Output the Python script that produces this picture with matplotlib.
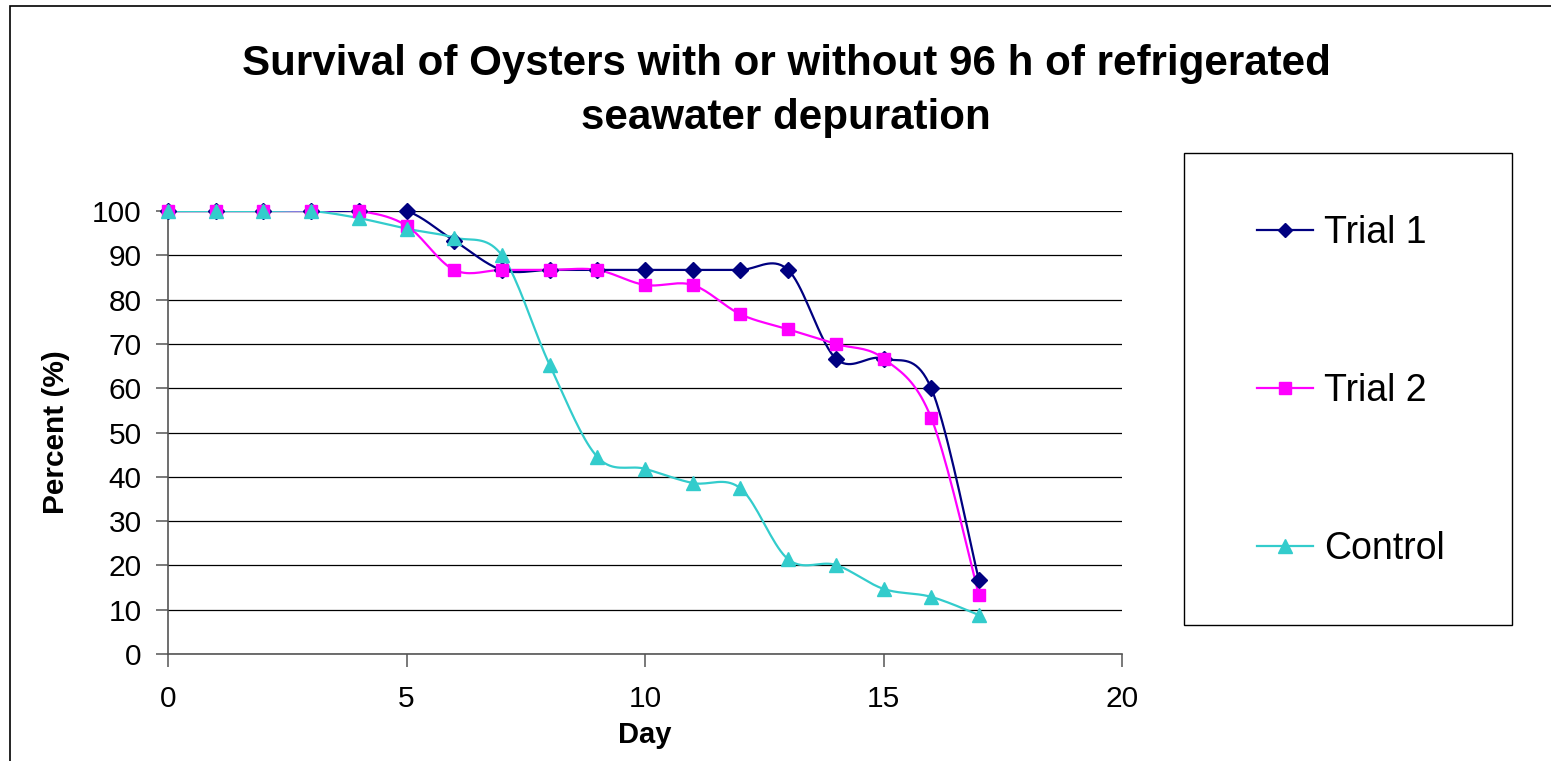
import numpy as np
import matplotlib
matplotlib.use("Agg")
import matplotlib.pyplot as plt
from matplotlib.patches import Rectangle

plt.rcParams["font.family"] = ["Liberation Sans", "DejaVu Sans"]

# ── Data ──────────────────────────────────────────────────────
days = list(range(18))
trial1 = [100, 100, 100, 100, 100, 100, 93.3, 86.7, 86.7, 86.7,
          86.7, 86.7, 86.7, 86.7, 66.7, 66.7, 60.0, 16.7]
trial2 = [100, 100, 100, 100, 100, 96.7, 86.7, 86.7, 86.7, 86.7,
          83.3, 83.3, 76.7, 73.3, 70.0, 66.7, 53.3, 13.3]
control = [100, 100, 100, 100, 98.4, 96.0, 94.0, 90.0, 65.3, 44.5,
           41.8, 38.6, 37.4, 21.4, 20.1, 14.7, 12.9, 8.8]

series_names = ["Trial 1", "Trial 2", "Control"]
series_colors = ["#000080", "#FF00FF", "#33CCCC"]
series_markers = ["D", "s", "^"]
series_msize = [8, 9, 10.5]


def smooth(x, y, steps=20):
    """Catmull-Rom style smoothing, like a spreadsheet 'smoothed line'."""
    x = np.asarray(x, float)
    y = np.asarray(y, float)
    px = np.concatenate([[x[0]], x, [x[-1]]])
    py = np.concatenate([[y[0]], y, [y[-1]]])
    xs, ys = [], []
    t = np.linspace(0, 1, steps)
    for i in range(1, len(px) - 2):
        p0 = np.array([px[i], py[i]])
        p3 = np.array([px[i + 1], py[i + 1]])
        c1 = p0 + (p3 - np.array([px[i - 1], py[i - 1]])) / 6
        c2 = p3 - (np.array([px[i + 2], py[i + 2]]) - p0) / 6
        pts = ((1 - t) ** 3)[:, None] * p0 + (3 * (1 - t) ** 2 * t)[:, None] * c1 \
            + (3 * (1 - t) * t ** 2)[:, None] * c2 + (t ** 3)[:, None] * p3
        xs.extend(pts[:, 0])
        ys.extend(pts[:, 1])
    return xs, ys


fig = plt.figure(figsize=(15.51, 7.61), dpi=100)
ax = fig.add_axes([168 / 1551, 107 / 761, 954 / 1551, 443 / 761])

# outer chart border (runs off the right and bottom edges)
fig.patches.append(Rectangle((10 / 1551, -0.05), 1.2, (755 / 761) + 0.05,
                             transform=fig.transFigure, fill=False,
                             edgecolor="black", linewidth=1.2))

handles = []
for vals, name, col, mk, ms in zip([trial1, trial2, control], series_names,
                                   series_colors, series_markers, series_msize):
    sx, sy = smooth(days, vals)
    ax.plot(sx, sy, color=col, linewidth=1.6, zorder=3)
    ax.plot(days, vals, linestyle="none", marker=mk, markersize=ms,
            color=col, zorder=4, clip_on=False)
    h, = ax.plot([], [], color=col, linewidth=1.6, marker=mk, markersize=ms * 0.9)
    handles.append(h)

ax.set_xlim(0, 20)
ax.set_ylim(0, 100)
ax.set_xticks([0, 5, 10, 15, 20])
ax.set_yticks(range(0, 101, 10))
ax.yaxis.grid(True, color="black", linewidth=0.9)
ax.set_axisbelow(True)
for s in ["top", "right"]:
    ax.spines[s].set_visible(False)
for s in ["left", "bottom"]:
    ax.spines[s].set_color("#555555")
    ax.spines[s].set_linewidth(1.2)
ax.tick_params(axis="both", direction="out", length=9, width=1.1,
               color="#555555", labelsize=21.5)
ax.tick_params(axis="x", pad=13)
ax.tick_params(axis="y", pad=10)

ax.set_xlabel("Day", fontsize=21, fontweight="bold", labelpad=6)
ax.set_ylabel("Percent (%)", fontsize=21.5, fontweight="bold", labelpad=16)

fig.text(786 / 1551, 1 - 91 / 761,
         "Survival of Oysters with or without 96 h of refrigerated\nseawater depuration",
         ha="center", va="center", fontsize=30.3, fontweight="bold", linespacing=1.48)

# legend box
fig.patches.append(Rectangle((1184 / 1551, 1 - 625 / 761), 328 / 1551, 472 / 761,
                             transform=fig.transFigure, fill=False,
                             edgecolor="black", linewidth=1.0))
fig.legend(handles, series_names, loc="center left",
           bbox_to_anchor=(1223 / 1551, 1 - 391 / 761), frameon=False,
           fontsize=27, labelspacing=3.25, handlelength=1.5, handletextpad=0.3)

fig.savefig("out.png", dpi=100)
